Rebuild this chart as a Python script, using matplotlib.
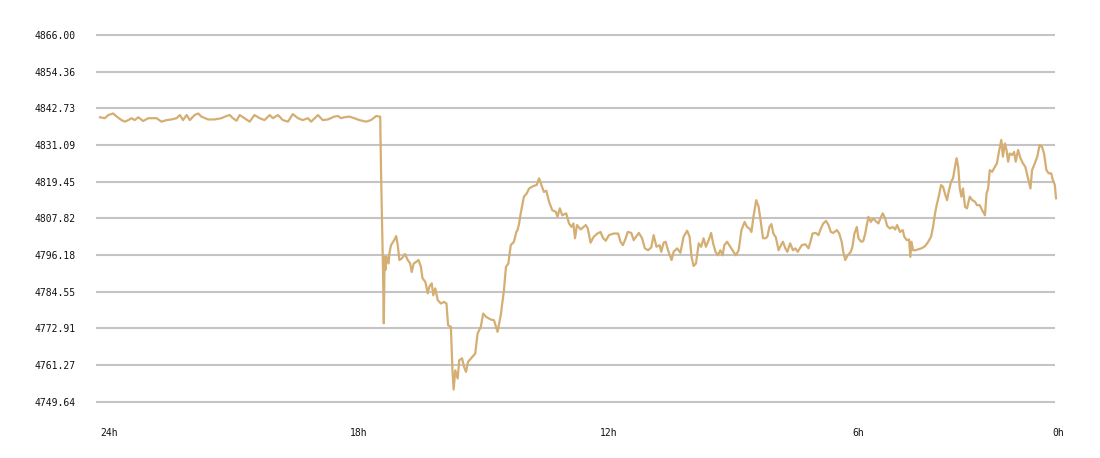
import matplotlib
matplotlib.use("Agg")
import matplotlib.pyplot as plt

# hours ago (24 -> 0) and index price values
hours = [
    23.95, 23.83, 23.74, 23.62, 23.53, 23.41, 23.33, 23.24, 23.16, 23.08, 22.99, 22.87, 22.74, 22.53,
    22.41, 22.28, 22.16, 22.03, 21.95, 21.87, 21.78, 21.70, 21.58, 21.49, 21.41, 21.24, 21.08, 20.91,
    20.78, 20.70, 20.62, 20.53, 20.45, 20.33, 20.20, 20.08, 19.95, 19.83, 19.70, 19.62, 19.49, 19.37,
    19.24, 19.12, 18.99, 18.87, 18.74, 18.66, 18.49, 18.37, 18.24, 18.08, 17.99, 17.91, 17.83, 17.70,
    17.58, 17.45, 17.28, 17.16, 17.03, 16.95, 16.93, 16.91, 16.88, 16.86, 16.84, 16.82, 16.80, 16.77,
    16.72, 16.70, 16.66, 16.58, 16.53, 16.49, 16.45, 16.39, 16.31, 16.24, 16.18, 16.14, 16.09, 16.03,
    15.97, 15.91, 15.87, 15.80, 15.74, 15.70, 15.64, 15.60, 15.55, 15.49, 15.41, 15.33, 15.27, 15.23,
    15.16, 15.12, 15.09, 15.05, 14.99, 14.95, 14.88, 14.83, 14.78, 14.73, 14.62, 14.55, 14.49, 14.41,
    14.35, 14.28, 14.16, 14.08, 13.99, 13.91, 13.83, 13.78, 13.72, 13.66, 13.58, 13.52, 13.49, 13.45,
    13.41, 13.33, 13.26, 13.20, 13.09, 13.01, 12.95, 12.89, 12.83, 12.77, 12.70, 12.62, 12.53, 12.49,
    12.43, 12.37, 12.27, 12.20, 12.14, 12.09, 12.05, 12.00, 11.91, 11.78, 11.73, 11.66, 11.58, 11.49,
    11.41, 11.35, 11.28, 11.20, 11.08, 10.97, 10.91, 10.85, 10.78, 10.73, 10.64, 10.58, 10.52, 10.45,
    10.37, 10.30, 10.22, 10.14, 10.08, 10.01, 9.93, 9.89, 9.83, 9.78, 9.72, 9.63, 9.58, 9.49,
    9.41, 9.33, 9.24, 9.18, 9.13, 9.08, 9.02, 8.95, 8.89, 8.83, 8.77, 8.70, 8.64, 8.59,
    8.53, 8.47, 8.41, 8.35, 8.31, 8.24, 8.16, 8.08, 8.02, 7.95, 7.88, 7.80, 7.74, 7.68,
    7.63, 7.58, 7.51, 7.45, 7.39, 7.34, 7.28, 7.23, 7.18, 7.13, 7.08, 7.02, 6.95, 6.89,
    6.84, 6.78, 6.73, 6.66, 6.59, 6.53, 6.47, 6.37, 6.28, 6.20, 6.14, 6.10, 6.02, 5.95,
    5.89, 5.83, 5.76, 5.70, 5.64, 5.58, 5.49, 5.43, 5.37, 5.33, 5.28, 5.22, 5.14, 5.10,
    5.05, 4.99, 4.95, 4.88, 4.83, 4.78, 4.74, 4.70, 4.64, 4.58, 4.52, 4.45, 4.39, 4.34,
    4.28, 4.23, 4.16, 4.09, 4.03, 3.98, 3.91, 3.84, 3.80, 3.74, 3.68, 3.65, 3.62, 3.58,
    3.52, 3.45, 3.37, 3.28, 3.20, 3.13, 3.08, 3.03, 2.99, 2.93, 2.88, 2.83, 2.77, 2.73,
    2.68, 2.63, 2.58, 2.53, 2.49, 2.45, 2.41, 2.37, 2.33, 2.28, 2.23, 2.16, 2.10, 2.03,
    1.98, 1.91, 1.85, 1.78, 1.74, 1.70, 1.66, 1.60, 1.53, 1.48, 1.43, 1.37, 1.33, 1.28,
    1.24, 1.20, 1.16, 1.10, 1.05, 1.01, 0.95, 0.89, 0.83, 0.77, 0.70, 0.64, 0.60, 0.53,
    0.47, 0.41, 0.35, 0.30, 0.24, 0.18, 0.12, 0.08, 0.03, 0.00,
]
prices = [
    4839.9, 4839.6, 4840.6, 4841.1, 4840.1, 4839.0, 4838.5, 4839.0, 4839.6, 4839.0, 4839.9, 4838.7, 4839.6, 4839.6,
    4838.5, 4839.0, 4839.2, 4839.6, 4840.6, 4839.0, 4840.6, 4839.0, 4840.6, 4841.1, 4840.1, 4839.2, 4839.2, 4839.6,
    4840.3, 4840.6, 4839.6, 4838.8, 4840.6, 4839.6, 4838.5, 4840.6, 4839.6, 4839.0, 4840.6, 4839.6, 4840.6, 4839.0,
    4838.5, 4840.9, 4839.6, 4839.0, 4839.6, 4838.5, 4840.6, 4839.0, 4839.2, 4840.1, 4840.3, 4839.6, 4839.9, 4840.1,
    4839.6, 4839.0, 4838.5, 4839.0, 4840.3, 4840.1, 4840.1, 4823.1, 4804.1, 4791.4, 4774.5, 4795.6, 4791.4, 4795.6,
    4793.5, 4796.7, 4799.3, 4800.9, 4802.2, 4799.3, 4794.6, 4795.1, 4796.5, 4794.6, 4793.5, 4790.8, 4793.5, 4794.0,
    4794.6, 4792.4, 4788.8, 4787.7, 4784.0, 4786.1, 4787.2, 4783.4, 4785.6, 4781.9, 4780.8, 4781.3, 4780.8, 4773.9,
    4773.4, 4759.6, 4753.5, 4759.6, 4757.0, 4762.8, 4763.4, 4760.7, 4759.1, 4762.3, 4763.9, 4764.9, 4771.3, 4773.4,
    4777.6, 4776.6, 4775.7, 4775.5, 4771.8, 4777.1, 4785.0, 4792.4, 4793.5, 4799.3, 4800.4, 4803.5, 4804.1, 4806.2,
    4809.4, 4814.7, 4815.7, 4817.3, 4818.1, 4818.4, 4820.5, 4818.4, 4816.2, 4816.6, 4813.1, 4810.4, 4809.9, 4808.3,
    4811.0, 4808.8, 4809.4, 4806.2, 4805.1, 4806.2, 4801.5, 4805.7, 4804.3, 4805.7, 4804.6, 4800.1, 4802.0, 4803.0,
    4803.5, 4801.6, 4800.7, 4802.5, 4803.0, 4803.0, 4800.4, 4799.3, 4801.5, 4803.5, 4803.2, 4800.9, 4802.0, 4803.2,
    4801.5, 4798.3, 4797.7, 4798.6, 4802.5, 4798.8, 4799.3, 4797.2, 4800.1, 4800.4, 4797.7, 4794.6, 4797.2, 4798.3,
    4796.9, 4802.0, 4803.9, 4802.0, 4795.6, 4792.7, 4793.5, 4799.9, 4798.8, 4801.5, 4798.8, 4800.9, 4803.2, 4799.9,
    4797.2, 4796.1, 4797.7, 4796.1, 4799.3, 4800.4, 4798.8, 4797.2, 4796.1, 4797.7, 4804.1, 4806.7, 4805.1, 4804.6,
    4803.5, 4808.3, 4813.6, 4811.5, 4806.2, 4801.5, 4801.5, 4802.0, 4805.1, 4806.0, 4803.0, 4801.8, 4797.7, 4799.3,
    4800.4, 4798.3, 4797.2, 4799.9, 4797.7, 4798.3, 4797.2, 4799.3, 4799.6, 4798.3, 4800.9, 4803.0, 4803.2, 4802.5,
    4804.6, 4806.2, 4807.0, 4805.7, 4803.5, 4803.2, 4804.1, 4803.0, 4800.4, 4797.2, 4794.6, 4796.1, 4797.2, 4798.8,
    4803.0, 4805.1, 4801.5, 4800.4, 4800.6, 4803.0, 4805.7, 4808.3, 4806.7, 4807.8, 4807.0, 4806.2, 4808.1, 4809.4,
    4807.8, 4805.4, 4804.6, 4805.1, 4804.3, 4805.7, 4803.5, 4804.1, 4802.0, 4800.9, 4801.1, 4795.6, 4800.4, 4797.7,
    4797.7, 4798.0, 4798.3, 4799.0, 4800.4, 4802.0, 4805.1, 4809.4, 4812.0, 4815.2, 4818.4, 4817.8, 4815.2, 4813.6,
    4816.8, 4819.4, 4820.5, 4824.2, 4826.9, 4824.2, 4817.3, 4814.7, 4817.3, 4811.5, 4811.0, 4814.7, 4813.6, 4813.1,
    4812.0, 4812.0, 4810.4, 4808.8, 4815.7, 4817.3, 4823.1, 4822.6, 4824.2, 4825.3, 4828.9, 4832.7, 4827.4, 4831.6,
    4829.5, 4825.8, 4828.4, 4827.9, 4828.9, 4825.8, 4829.5, 4826.9, 4825.3, 4824.2, 4820.5, 4817.3, 4823.1, 4825.3,
    4827.4, 4831.1, 4830.5, 4828.4, 4823.1, 4822.1, 4822.1, 4820.0, 4818.4, 4814.2,
]

y_ticks = [4749.64, 4761.27, 4772.91, 4784.55, 4796.18, 4807.82, 4819.45, 4831.09, 4842.73, 4854.36, 4866.00]
x_tick_pos = [23.73, 17.48, 11.20, 4.95, -0.05]
x_tick_labels = ["24h", "18h", "12h", "6h", "0h"]

W, H = 1100, 458
fig = plt.figure(figsize=(W / 100, H / 100), dpi=100)
ax = fig.add_axes([96 / W, 1 - 401.7 / H, 962 / W, 366.7 / H])

x_left, x_right = 24.05, 0.0
ax.set_xlim(x_left, x_right)
ax.set_ylim(y_ticks[0], y_ticks[-1])

for yv in y_ticks:
    ax.plot([x_left, 0.02], [yv, yv], color="#c4c4c4", lw=1.5, clip_on=False,
            solid_capstyle="butt", zorder=1)

ax.plot(hours, prices, color="#d4ae72", lw=1.6, clip_on=False, zorder=3,
        solid_joinstyle="round")

for s in ax.spines.values():
    s.set_visible(False)

ax.set_yticks(y_ticks)
ax.set_yticklabels([f"{v:.2f}" for v in y_ticks], fontsize=7,
                   family="DejaVu Sans Mono", color="#111111")
ax.set_xticks(x_tick_pos)
ax.set_xticklabels(x_tick_labels, fontsize=7, family="DejaVu Sans Mono", color="#111111")
ax.tick_params(axis="y", length=0, pad=14.5)
ax.tick_params(axis="x", length=0, pad=19)

fig.savefig("out.png", dpi=100, facecolor="white")
